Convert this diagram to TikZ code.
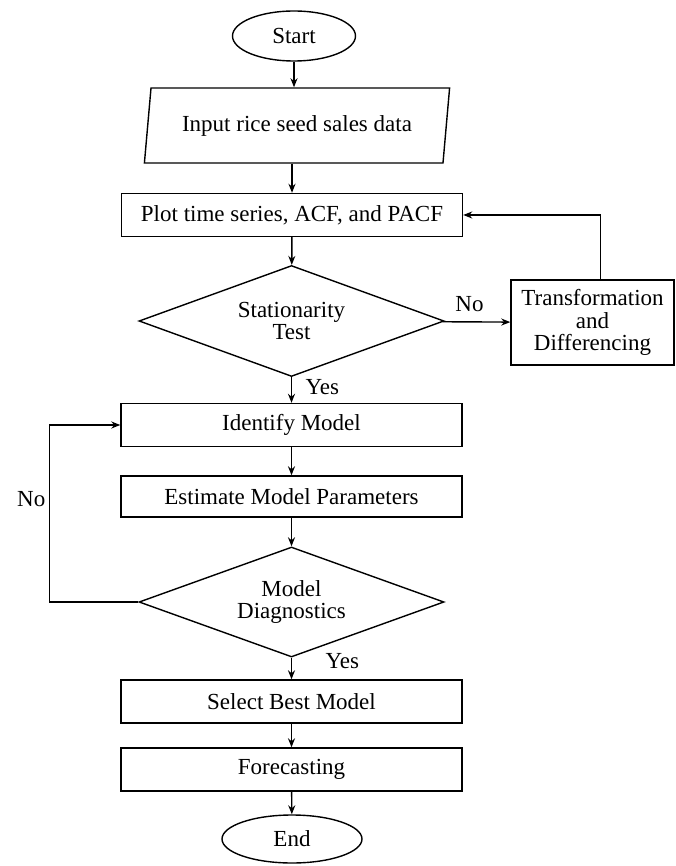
\documentclass[tikz,border=0pt]{standalone}
\usepackage{fontspec}
\setmainfont{Liberation Serif}
\usetikzlibrary{shapes.geometric, arrows.meta}
\tikzstyle{terminal} = [ellipse, draw=black, line width=1.4pt,
                        minimum width=123pt, minimum height=50pt, inner sep=0pt]
\tikzstyle{inout} = [trapezium, trapezium left angle=76, trapezium right angle=104,
                     trapezium stretches=true, draw=black, line width=1.4pt,
                     minimum width=306pt, minimum height=75pt, inner sep=0pt]
\tikzstyle{process} = [rectangle, draw=black, line width=1.4pt,
                       minimum width=341pt, minimum height=43pt,
                       inner sep=0pt, align=center]
\tikzstyle{decision} = [diamond, aspect=2.7, draw=black, line width=1.4pt,
                        minimum width=305pt, minimum height=111pt,
                        inner sep=0pt, align=center]
\tikzstyle{arrow} = [line width=1.4pt,-{Stealth[length=9pt,width=7pt]}]

\begin{document}
\begin{tikzpicture}[x=1pt, y=-1pt, font=\fontsize{23}{22.5}\selectfont]
        \useasboundingbox (0,0) rectangle (676,866);

        %Start and data input
        \node (start) [terminal] at (294,36) {Start};
        \node (input) [inout] at (297,125.5) {Input rice seed sales data};
        \node (plot) [process] at (292,215) {Plot time series, ACF, and PACF};

        %Stationarity check
        \node (station) [decision] at (291.5,321) {Stationarity\\Test};
        \node (transf) [process, minimum width=163pt, minimum height=85pt] at (592.5,322.5) {Transformation\\and\\Differencing};

        %Model building
        \node (identify) [process] at (291.5,425) {Identify Model};
        \node (estimate) [process, minimum height=41pt] at (291.5,496.5) {Estimate Model Parameters};
        \node (diagnose) [decision, minimum height=110pt] at (291.5,602) {Model\\Diagnostics};

        %Final steps
        \node (select) [process] at (291.5,701.5) {Select Best Model};
        \node (forecast) [process] at (291.5,769.5) {Forecasting};
        \node (stop) [terminal, minimum width=140pt, minimum height=48pt] at (292,839) {End};

        %Main flow
        \draw [arrow] (start) -- (start |- input.north);
        \draw [arrow] (input.south -| plot.north) -- (plot);
        \draw [arrow] (plot) -- (station);
        \draw [arrow] (station) -- node [right, pos=0.4, xshift=10pt] {Yes} (identify);
        \draw [arrow] (identify) -- (estimate);
        \draw [arrow] (estimate) -- (diagnose);
        \draw [arrow] (diagnose) -- node [right, pos=0.15, xshift=30pt] {Yes} (select);
        \draw [arrow] (select) -- (forecast);
        \draw [arrow] (forecast) -- (stop);

        %Not stationary
        \draw [arrow] (station) -- node [above=6pt, xshift=-7pt] {No} (transf);
        \draw [arrow] ([xshift=8pt]transf.north) |- (plot.east);

        %Bad diagnostics
        \draw [arrow] (diagnose.west) -- ++(-89,0) |- node [left, pos=0.29] {No} (identify.west);

\end{tikzpicture}
\end{document}
